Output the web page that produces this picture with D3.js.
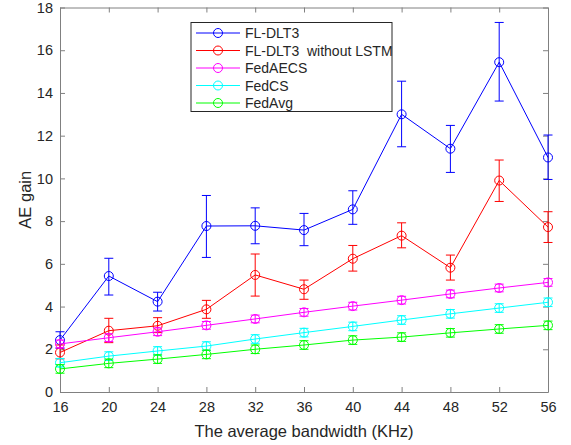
<!DOCTYPE html>
<html lang="en">
<head>
<meta charset="UTF-8">
<title>AE gain</title>
<script src="https://d3js.org/d3.v7.min.js"></script>
<style>
  body { margin: 0; background: #fff; }
  text { font-family: "Liberation Sans", Arial, sans-serif; fill: #262626; }
</style>
</head>
<body>
<script>
    // bandwidth values (KHz)
    var bandwidth = [16, 20, 24, 28, 32, 36, 40, 44, 48, 52, 56];
    var xTicks = [16, 20, 24, 28, 32, 36, 40, 44, 48, 52, 56];
    var yTicks = [0, 2, 4, 6, 8, 10, 12, 14, 16, 18];

    var seriesNames = ["FL-DLT3", "FL-DLT3  without LSTM", "FedAECS", "FedCS", "FedAvg"];
    var seriesColors = ["#0000ff", "#ff0000", "#ff00ff", "#00ffff", "#00ff00"];

    var flDlt3 = [2.43, 5.43, 4.23, 7.77, 7.78, 7.58, 8.55, 13.0, 11.39, 15.44, 10.98];
    var flDlt3Low = [2.05, 4.54, 3.79, 6.3, 6.94, 6.85, 7.85, 11.48, 10.28, 13.62, 9.95];
    var flDlt3High = [2.82, 6.26, 4.67, 9.2, 8.62, 8.36, 9.42, 14.55, 12.48, 17.3, 12.03];

    var noLstm = [1.85, 2.87, 3.1, 3.87, 5.48, 4.81, 6.24, 7.32, 5.82, 9.9, 7.72];
    var noLstmLow = [1.55, 2.31, 2.78, 3.45, 4.49, 4.34, 5.66, 6.75, 5.24, 8.92, 7.0];
    var noLstmHigh = [2.2, 3.45, 3.48, 4.29, 6.46, 5.24, 6.86, 7.92, 6.41, 10.86, 8.44];

    var fedAecs = [2.25, 2.54, 2.82, 3.12, 3.42, 3.73, 4.02, 4.3, 4.59, 4.87, 5.13];
    var fedCs = [1.37, 1.68, 1.92, 2.15, 2.48, 2.78, 3.07, 3.37, 3.66, 3.93, 4.2];
    var fedAvg = [1.08, 1.34, 1.54, 1.76, 2.0, 2.2, 2.43, 2.57, 2.77, 2.95, 3.12];
    var smallErr = [0.18, 0.2, 0.2];

    var width = 571, height = 445;
    var margin = {left: 60, right: 23, top: 7.5, bottom: 53};

    var svg = d3.select("body").append("svg")
        .attr("width", width)
        .attr("height", height);

    var x = d3.scaleLinear().domain([16, 56]).range([margin.left, width - margin.right]);
    var y = d3.scaleLinear().domain([0, 18]).range([height - margin.bottom, margin.top]);

    function pack(vals, low, high) {
        return vals.map(function (v, i) {
            return {x: bandwidth[i], y: v, lo: low[i], hi: high[i]};
        });
    }
    function packSym(vals, e) {
        return vals.map(function (v, i) {
            return {x: bandwidth[i], y: v, lo: v - e, hi: v + e};
        });
    }

    var series = [
        pack(flDlt3, flDlt3Low, flDlt3High),
        pack(noLstm, noLstmLow, noLstmHigh),
        packSym(fedAecs, smallErr[0]),
        packSym(fedCs, smallErr[1]),
        packSym(fedAvg, smallErr[2])
    ];

    // axes
    var axisColor = "#262626";
    var xb = svg.append("g").attr("transform", "translate(0," + y(0) + ")")
        .call(d3.axisBottom(x).tickValues(xTicks).tickSizeInner(-5).tickSizeOuter(0).tickPadding(10));
    var xt = svg.append("g").attr("transform", "translate(0," + y(18) + ")")
        .call(d3.axisTop(x).tickValues(xTicks).tickSizeInner(-5).tickSizeOuter(0).tickFormat(""));
    var yl = svg.append("g").attr("transform", "translate(" + x(16) + ",0)")
        .call(d3.axisLeft(y).tickValues(yTicks).tickSizeInner(-5).tickSizeOuter(0).tickPadding(7));
    var yr = svg.append("g").attr("transform", "translate(" + x(56) + ",0)")
        .call(d3.axisRight(y).tickValues(yTicks).tickSizeInner(-5).tickSizeOuter(0).tickFormat(""));
    [xb, xt, yl, yr].forEach(function (g) {
        g.selectAll("path, line").attr("stroke", "#808080");
        g.selectAll("text").style("font-size", "14.5px").attr("fill", axisColor);
    });

    svg.append("text")
        .attr("x", (x(16) + x(56)) / 2)
        .attr("y", 437)
        .attr("text-anchor", "middle")
        .style("font-size", "16.5px")
        .text("The average bandwidth (KHz)");
    svg.append("text")
        .attr("transform", "translate(31," + y(9) + ") rotate(-90)")
        .attr("text-anchor", "middle")
        .style("font-size", "16.5px")
        .text("AE gain");

    var line = d3.line().x(function (d) { return x(d.x); }).y(function (d) { return y(d.y); });
    var cap = 4.5;

    series.forEach(function (s, k) {
        var c = seriesColors[k];
        var g = svg.append("g").attr("stroke", c).attr("fill", "none").attr("stroke-width", 1);
        g.append("path").attr("d", line(s));
        var eb = g.selectAll(".eb").data(s).enter().append("g");
        eb.append("line")
            .attr("x1", function (d) { return x(d.x); }).attr("x2", function (d) { return x(d.x); })
            .attr("y1", function (d) { return y(d.lo); }).attr("y2", function (d) { return y(d.hi); });
        eb.append("line")
            .attr("x1", function (d) { return x(d.x) - cap; }).attr("x2", function (d) { return x(d.x) + cap; })
            .attr("y1", function (d) { return y(d.lo); }).attr("y2", function (d) { return y(d.lo); });
        eb.append("line")
            .attr("x1", function (d) { return x(d.x) - cap; }).attr("x2", function (d) { return x(d.x) + cap; })
            .attr("y1", function (d) { return y(d.hi); }).attr("y2", function (d) { return y(d.hi); });
        eb.append("circle")
            .attr("cx", function (d) { return x(d.x); })
            .attr("cy", function (d) { return y(d.y); })
            .attr("r", 4.5);
    });

    // legend
    var lg = svg.append("g").attr("transform", "translate(191,22.5)");
    lg.append("rect").attr("width", 201).attr("height", 89)
        .attr("fill", "#fff").attr("stroke", axisColor).attr("stroke-width", 1);
    seriesNames.forEach(function (name, i) {
        var yy = 10.5 + i * 17.5;
        lg.append("line").attr("x1", 5).attr("x2", 49).attr("y1", yy).attr("y2", yy)
            .attr("stroke", seriesColors[i]);
        lg.append("circle").attr("cx", 27).attr("cy", yy).attr("r", 4.5)
            .attr("fill", "none").attr("stroke", seriesColors[i]);
        // keep the double space from the original legend
        lg.append("text").attr("x", 54).attr("y", yy + 5)
            .style("font-size", "14px").text(name.replace("  ", " \u00a0"));
    });
</script>
</body>
</html>
